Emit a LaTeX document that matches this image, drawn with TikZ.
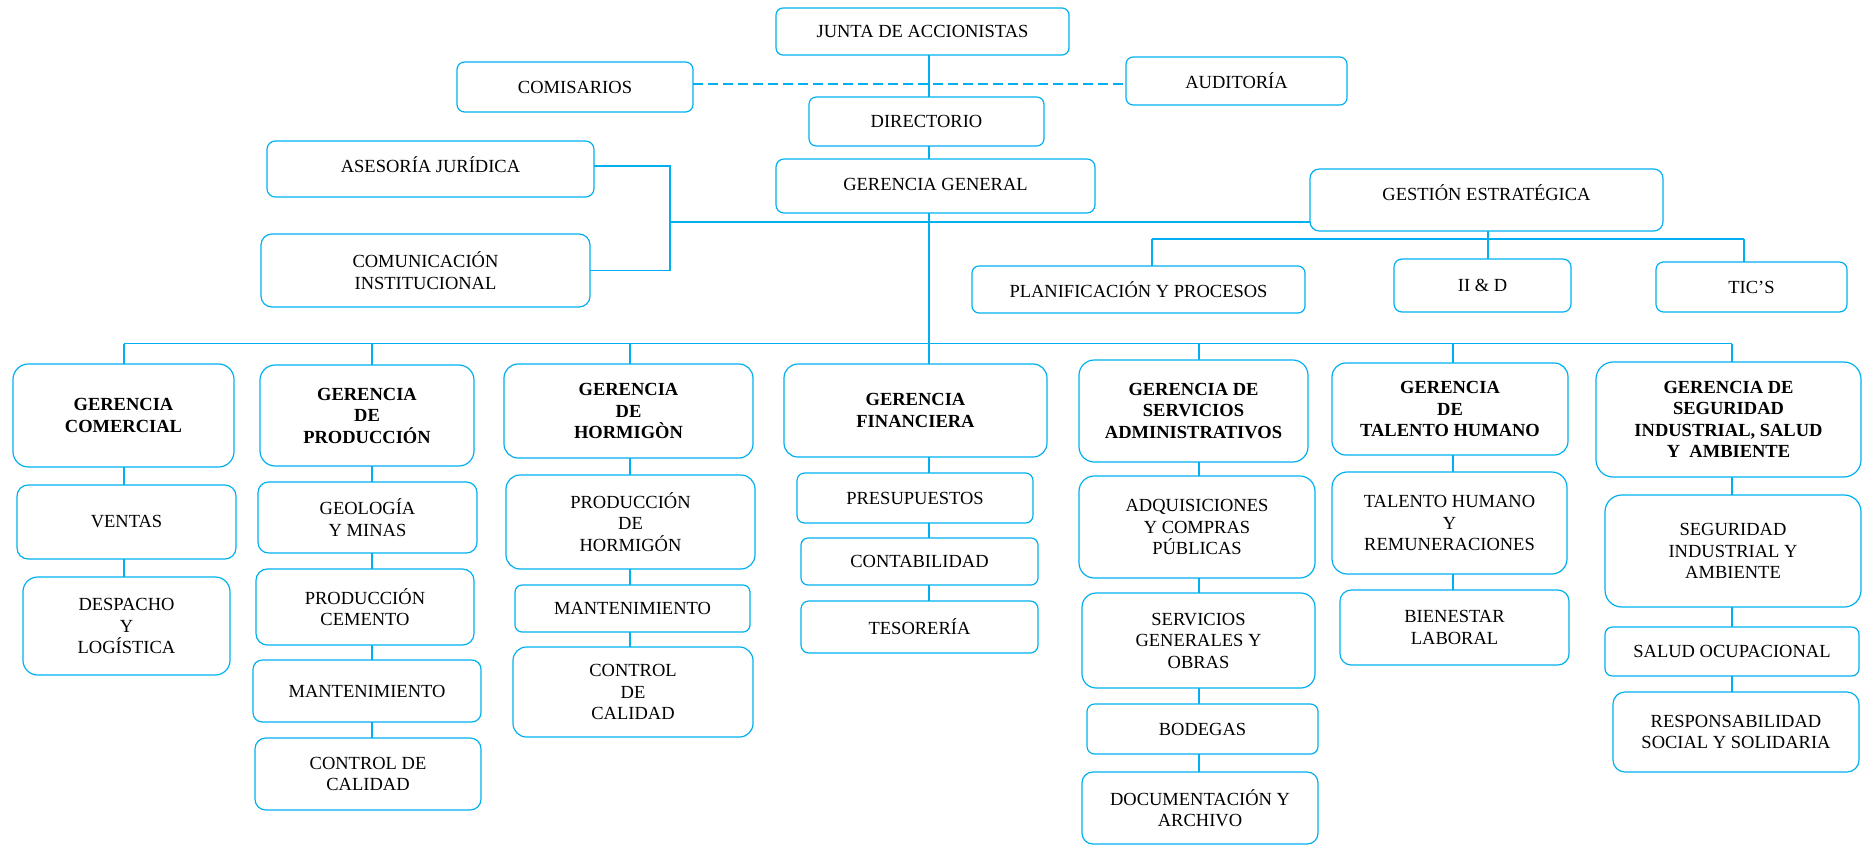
\documentclass[tikz,border=0pt]{standalone}
\usepackage{fontspec}
\setmainfont{Liberation Serif}
\definecolor{lb}{RGB}{0,176,240}
\tikzset{
  obox/.style={draw=lb, line width=1.2pt, inner sep=0pt, outer sep=0pt, align=center,
    font=\fontsize{18.5}{21.5}\selectfont, text=black},
  gbox/.style={font=\fontsize{18.5}{21.5}\selectfont\bfseries},
  conn/.style={draw=lb, line width=1.1pt},
  dconn/.style={conn, dash pattern=on 10pt off 5pt}
}
\newcommand{\orgbox}[7][]{%
  \pgfmathsetmacro{\oW}{#5-#3}\pgfmathsetmacro{\oH}{#6-#4}%
  \pgfmathsetmacro{\oR}{0.15*min(\oW,\oH)}%
  \pgfmathsetmacro{\oX}{(#3+#5)/2}\pgfmathsetmacro{\oY}{-(#4+#6)/2}%
  \node[obox,rounded corners=\oR pt,minimum width=\oW pt,minimum height=\oH pt,#1] (#2) at (\oX pt,\oY pt) {#7};}
\newcommand{\up}[2]{\raisebox{#1}[\height][\depth]{#2}}
\begin{document}
\begin{tikzpicture}
\useasboundingbox (0,0) rectangle (1867pt,-846pt);
% top level
\orgbox{junta}{776}{8}{1069}{55}{JUNTA DE ACCIONISTAS}
\orgbox{com}{457}{62}{693}{112}{COMISARIOS}
\orgbox{aud}{1126}{57}{1347}{105}{AUDITORÍA}
\orgbox{dir}{809}{97}{1044}{146}{DIRECTORIO}
\orgbox{gg}{776}{159}{1095}{213}{\up{2pt}{GERENCIA GENERAL}}
\orgbox{ase}{267}{141}{594}{197}{\up{4pt}{ASESORÍA JURÍDICA}}
\orgbox{cin}{261}{234}{590}{307}{COMUNICACIÓN\\INSTITUCIONAL}
\orgbox{ges}{1310}{169}{1663}{231}{\up{7pt}{GESTIÓN ESTRATÉGICA}}
\orgbox{plan}{972}{266}{1305}{313}{PLANIFICACIÓN Y PROCESOS}
\orgbox{iid}{1394}{259}{1571}{312}{II \& D}
\orgbox{tic}{1656}{262}{1847}{312}{TIC’S}
% column 1
\orgbox[gbox]{gcom}{13}{364}{234}{467}{GERENCIA\\COMERCIAL}
\orgbox{ven}{17}{485}{236}{559}{VENTAS}
\orgbox{des}{23}{577}{230}{675}{DESPACHO\\Y\\LOGÍSTICA}
% column 2
\orgbox[gbox]{gpro}{260}{365}{474}{466}{GERENCIA\\DE\\PRODUCCIÓN}
\orgbox{geo}{258}{482}{477}{553}{GEOLOGÍA\\Y MINAS}
\orgbox{pce}{256}{569}{474}{645}{PRODUCCIÓN\\CEMENTO}
\orgbox{manA}{253}{660}{481}{722}{MANTENIMIENTO}
\orgbox{ccaA}{255}{738}{481}{810}{CONTROL DE\\CALIDAD}
% column 3
\orgbox[gbox]{ghor}{504}{364}{753}{458}{GERENCIA\\DE\\HORMIGÒN}
\orgbox{pho}{506}{475}{755}{569}{PRODUCCIÓN\\DE\\HORMIGÓN}
\orgbox{manB}{515}{585}{750}{632}{MANTENIMIENTO}
\orgbox{ccaB}{513}{647}{753}{737}{CONTROL\\DE\\CALIDAD}
% column 4
\orgbox[gbox]{gfin}{784}{364}{1047}{457}{GERENCIA\\FINANCIERA}
\orgbox{pre}{797}{473}{1033}{523}{PRESUPUESTOS}
\orgbox{con}{801}{538}{1038}{585}{CONTABILIDAD}
\orgbox{tes}{801}{601}{1038}{653}{TESORERÍA}
% column 5
\orgbox[gbox]{gser}{1079}{360}{1308}{462}{GERENCIA DE\\SERVICIOS\\ADMINISTRATIVOS}
\orgbox{adq}{1079}{476}{1315}{578}{ADQUISICIONES\\Y COMPRAS\\PÚBLICAS}
\orgbox{sgo}{1082}{593}{1315}{688}{SERVICIOS\\GENERALES Y\\OBRAS}
\orgbox{bod}{1087}{704}{1318}{754}{BODEGAS}
\orgbox{doc}{1082}{772}{1318}{844}{DOCUMENTACIÓN Y\\ARCHIVO}
% column 6
\orgbox[gbox]{gtal}{1332}{363}{1568}{455}{GERENCIA\\DE\\TALENTO HUMANO}
\orgbox{thr}{1332}{472}{1567}{574}{TALENTO HUMANO\\Y\\REMUNERACIONES}
\orgbox{bie}{1340}{590}{1569}{665}{BIENESTAR\\LABORAL}
% column 7
\orgbox[gbox]{gseg}{1596}{362}{1861}{477}{GERENCIA DE\\SEGURIDAD\\INDUSTRIAL, SALUD\\Y~ AMBIENTE}
\orgbox{sia}{1605}{495}{1861}{607}{SEGURIDAD\\INDUSTRIAL Y\\AMBIENTE}
\orgbox{sal}{1605}{627}{1859}{676}{SALUD OCUPACIONAL}
\orgbox{res}{1613}{692}{1859}{772}{RESPONSABILIDAD\\SOCIAL Y SOLIDARIA}
% coordinates
\coordinate (x1) at (124pt,-343.5pt);
\coordinate (x2) at (372pt,-343.5pt);
\coordinate (x3) at (630pt,-343.5pt);
\coordinate (x4) at (929pt,-343.5pt);
\coordinate (x5) at (1199pt,-343.5pt);
\coordinate (x6) at (1453pt,-343.5pt);
\coordinate (x7) at (1732pt,-343.5pt);
\coordinate (dy) at (0pt,-84pt);
\coordinate (ay) at (0pt,-166pt);
\coordinate (brk) at (670pt,-222pt);
\coordinate (gl) at (1152pt,-239pt);
\coordinate (gy) at (1488pt,-239pt);
\coordinate (gr) at (1744pt,-239pt);
% top connectors
\draw[dconn] (com.east |- dy) -- (aud.west |- dy);
\draw[conn] (junta.south -| x4) -- (dir.north -| x4);
\draw[conn] (dir.south -| x4) -- (gg.north -| x4);
\draw[conn] (gg.south -| x4) -- (x4);
\draw[conn] (ase.east |- ay) -| (brk) |- (cin.east);
\draw[conn] (brk) -- (ges.west |- brk);
\draw[conn] (ges.south -| gy) -- (gy);
\draw[conn] (gl) -- (gr);
\draw[conn] (gl) -- (plan.north -| gl);
\draw[conn] (gy) -- (iid.north -| gy);
\draw[conn] (gr) -- (tic.north -| gr);
% bus
\draw[conn] (x1) -- (x7);
\draw[conn] (x1) -- (gcom.north -| x1);
\draw[conn] (x2) -- (gpro.north -| x2);
\draw[conn] (x3) -- (ghor.north -| x3);
\draw[conn] (x4) -- (gfin.north -| x4);
\draw[conn] (x5) -- (gser.north -| x5);
\draw[conn] (x6) -- (gtal.north -| x6);
\draw[conn] (x7) -- (gseg.north -| x7);
% column chains
\draw[conn] (gcom.south -| x1) -- (ven.north -| x1);
\draw[conn] (ven.south -| x1) -- (des.north -| x1);
\draw[conn] (gpro.south -| x2) -- (geo.north -| x2);
\draw[conn] (geo.south -| x2) -- (pce.north -| x2);
\draw[conn] (pce.south -| x2) -- (manA.north -| x2);
\draw[conn] (manA.south -| x2) -- (ccaA.north -| x2);
\draw[conn] (ghor.south -| x3) -- (pho.north -| x3);
\draw[conn] (pho.south -| x3) -- (manB.north -| x3);
\draw[conn] (manB.south -| x3) -- (ccaB.north -| x3);
\draw[conn] (gfin.south -| x4) -- (pre.north -| x4);
\draw[conn] (pre.south -| x4) -- (con.north -| x4);
\draw[conn] (con.south -| x4) -- (tes.north -| x4);
\draw[conn] (gser.south -| x5) -- (adq.north -| x5);
\draw[conn] (adq.south -| x5) -- (sgo.north -| x5);
\draw[conn] (sgo.south -| x5) -- (bod.north -| x5);
\draw[conn] (bod.south -| x5) -- (doc.north -| x5);
\draw[conn] (gtal.south -| x6) -- (thr.north -| x6);
\draw[conn] (thr.south -| x6) -- (bie.north -| x6);
\draw[conn] (gseg.south -| x7) -- (sia.north -| x7);
\draw[conn] (sia.south -| x7) -- (sal.north -| x7);
\draw[conn] (sal.south -| x7) -- (res.north -| x7);
\end{tikzpicture}
\end{document}
